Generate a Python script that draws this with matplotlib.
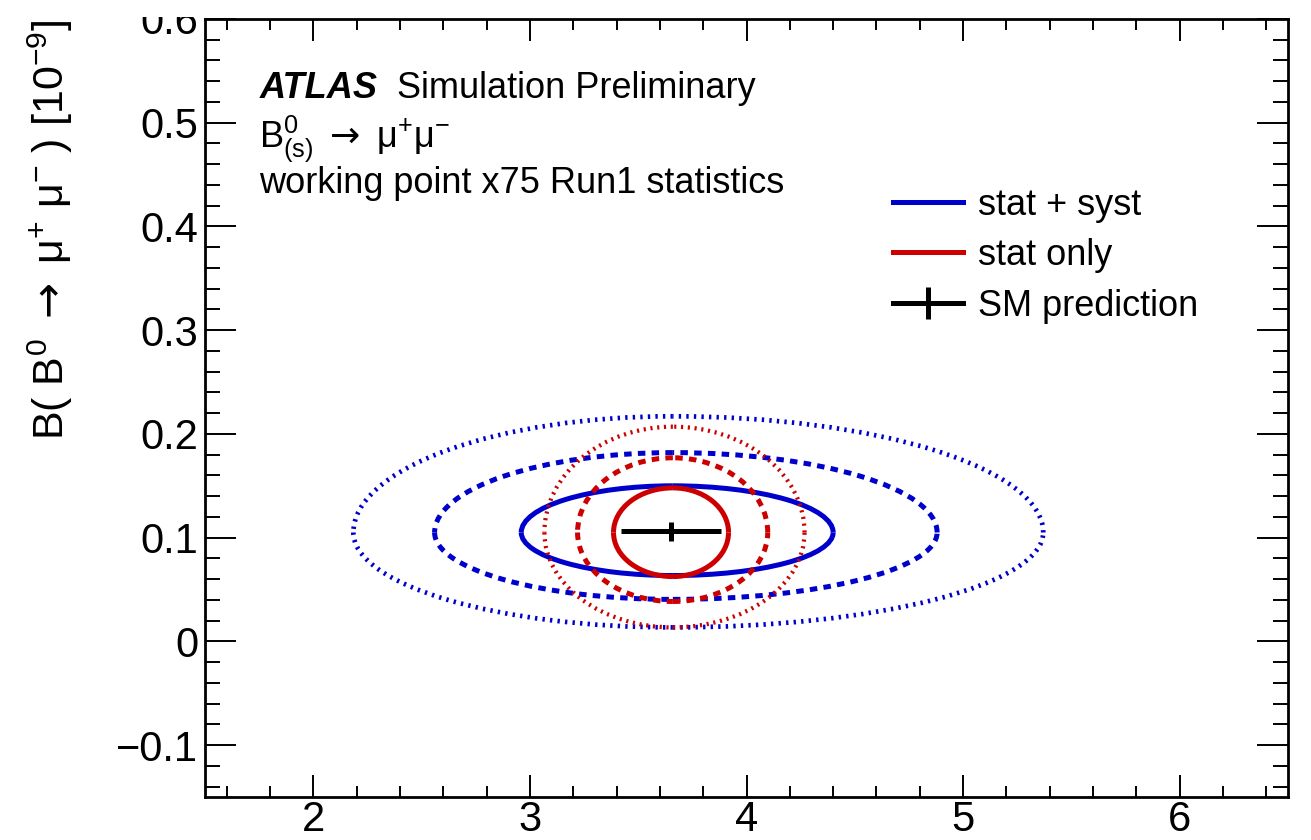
import matplotlib
matplotlib.use('Agg')
import matplotlib.pyplot as plt
from matplotlib.patches import Arc, Rectangle
from matplotlib.lines import Line2D
from matplotlib.ticker import MultipleLocator, FuncFormatter

plt.rcParams['font.family'] = ['Liberation Sans', 'DejaVu Sans']
plt.rcParams['mathtext.fontset'] = 'custom'
plt.rcParams['mathtext.rm'] = 'Liberation Sans'
plt.rcParams['mathtext.it'] = 'Liberation Sans:italic'
plt.rcParams['mathtext.bf'] = 'Liberation Sans:bold'
plt.rcParams['mathtext.sf'] = 'DejaVu Sans'
plt.rcParams['mathtext.default'] = 'regular'

BLUE = '#0000cc'
RED = '#cc0000'

# SM prediction, B(Bs->mumu) and B(B0->mumu) in units of 1e-9
sm_bs, sm_bs_err = 3.65, 0.23
sm_bd, sm_bd_err = 0.106, 0.009

# contour levels: 1 sigma (solid), 2 sigma (dashed), 3 sigma (dotted)
levels = ['1sigma', '2sigma', '3sigma']
level_styles = ['solid', (0, (1.5, 1.25)), (0, (0.5, 1.1))]
level_widths = [3.6, 3.6, 3.4]

# point where the horizontal and vertical extremes of the contours meet
cont_xc, cont_yc = 3.66, 0.105

# stat + syst contours: left/right/bottom/top extremes
syst_xlo = [2.96, 2.56, 2.185]
syst_xhi = [4.40, 4.88, 5.37]
syst_ylo = [0.0635, 0.0405, 0.0135]
syst_yhi = [0.150, 0.182, 0.217]

# stat only contours
stat_xlo = [3.386, 3.22, 3.067]
stat_xhi = [3.917, 4.098, 4.268]
stat_ylo = [0.0625, 0.0385, 0.0135]
stat_yhi = [0.148, 0.177, 0.207]


def draw_contour(ax, xlo, xhi, ylo, yhi, color, ls, lw):
    # one quarter ellipse per quadrant, so each side keeps its own extent
    quarters = [(0, 90, xhi - cont_xc, yhi - cont_yc),
                (90, 180, cont_xc - xlo, yhi - cont_yc),
                (180, 270, cont_xc - xlo, cont_yc - ylo),
                (270, 360, xhi - cont_xc, cont_yc - ylo)]
    for t1, t2, rx, ry in quarters:
        ax.add_patch(Arc((cont_xc, cont_yc), 2 * rx, 2 * ry, theta1=t1, theta2=t2,
                         color=color, lw=lw, linestyle=ls, zorder=3))


def tick_fmt(v, pos):
    return ('%g' % round(v, 4)).replace('-', '\u2212')


fig = plt.figure(figsize=(13.11, 8.4), dpi=100)
ax = fig.add_axes([205 / 1311, 43 / 840, 1083 / 1311, 778 / 840])

for i in range(len(levels)):
    draw_contour(ax, syst_xlo[i], syst_xhi[i], syst_ylo[i], syst_yhi[i],
                 BLUE, level_styles[i], level_widths[i])
    draw_contour(ax, stat_xlo[i], stat_xhi[i], stat_ylo[i], stat_yhi[i],
                 RED, level_styles[i], level_widths[i] * 0.9 if i == 2 else level_widths[i])

ax.errorbar(sm_bs, sm_bd, xerr=sm_bs_err, yerr=sm_bd_err, fmt='none',
            ecolor='k', elinewidth=3.6, capsize=0, zorder=5)

ax.set_xlim(1.5, 6.5)
ax.set_ylim(-0.15, 0.6)
ax.xaxis.set_major_locator(MultipleLocator(1))
ax.xaxis.set_minor_locator(MultipleLocator(0.2))
ax.yaxis.set_major_locator(MultipleLocator(0.1))
ax.yaxis.set_minor_locator(MultipleLocator(0.02))
ax.xaxis.set_major_formatter(FuncFormatter(tick_fmt))
ax.yaxis.set_major_formatter(FuncFormatter(tick_fmt))
ax.tick_params(which='both', direction='in', top=True, right=True, width=1.4,
               labelsize=30)
ax.tick_params(axis='x', which='major', length=16, pad=2)
ax.tick_params(axis='x', which='minor', length=8)
ax.tick_params(axis='y', which='major', length=22, pad=5)
ax.tick_params(axis='y', which='minor', length=11)
for sp in ax.spines.values():
    sp.set_linewidth(2)

ax.text(-0.143, 1.0, r'B( B$^{0}$ $\mathsf{\rightarrow}$ μ$^{+}$ μ$^{-}$ ) [10$^{-9}$]',
        rotation=90, ha='center', va='top', fontsize=31, transform=ax.transAxes)

ax.text(0.051, 0.8985, 'ATLAS', fontsize=26, fontweight='bold', fontstyle='italic',
        va='baseline', transform=ax.transAxes)
ax.text(0.1773, 0.8985, 'Simulation Preliminary', fontsize=26, va='baseline',
        transform=ax.transAxes)
ax.text(0.0499, 0.8355, r'B$^{0}_{(s)}$ $\mathsf{\rightarrow}$ μ$^{+}$μ$^{-}$',
        fontsize=26, va='baseline', transform=ax.transAxes)
ax.text(0.0499, 0.776, 'working point x75 Run1 statistics', fontsize=26,
        va='baseline', transform=ax.transAxes)

handles = [Line2D([], [], color=BLUE, lw=3.6),
           Line2D([], [], color=RED, lw=3.6),
           Line2D([], [], color='k', lw=3.6, marker='|', markersize=23,
                  markeredgewidth=3.6)]
labels = ['stat + syst', 'stat only', 'SM prediction']
ax.legend(handles, labels, loc='upper left', bbox_to_anchor=(0.635, 0.7834),
          frameon=False, fontsize=26, handlelength=1.94, handletextpad=0.41,
          labelspacing=0.43, borderpad=0, borderaxespad=0)

# blank strip along the top edge
fig.add_artist(Rectangle((0, 1 - 17 / 840), 1, 17 / 840, transform=fig.transFigure,
                         facecolor='white', edgecolor='none', zorder=10))

fig.savefig('out.png', dpi=100)
